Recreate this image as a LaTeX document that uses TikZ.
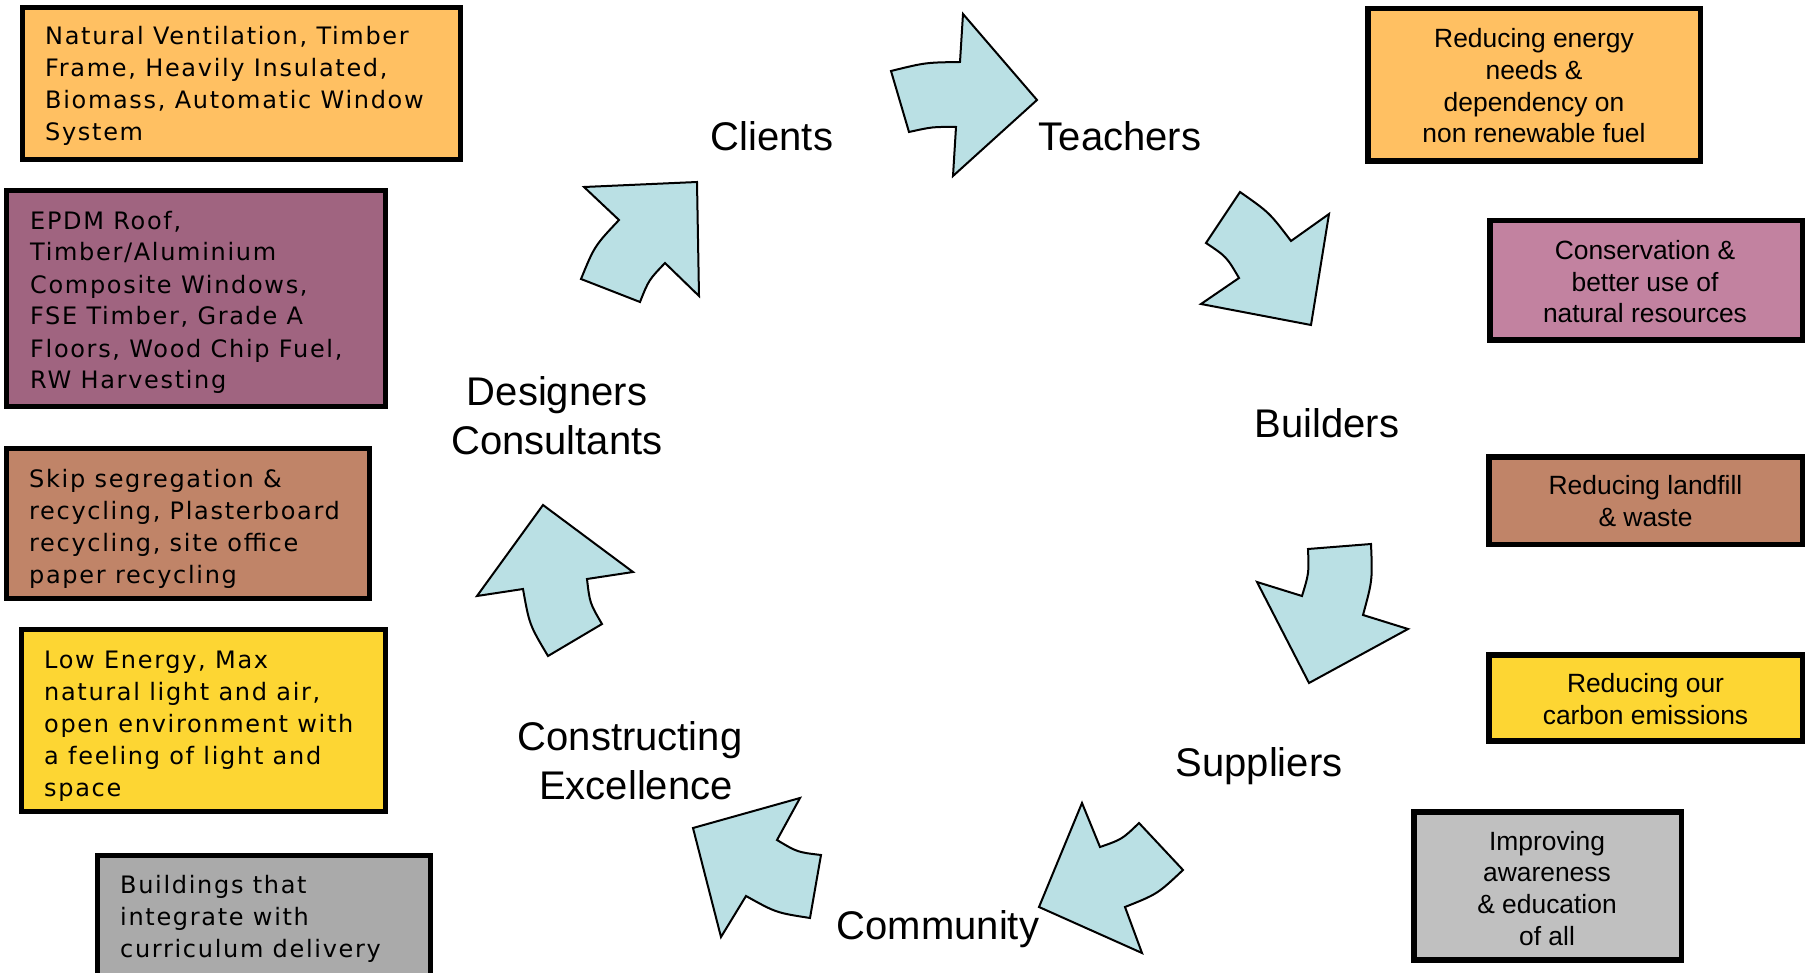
\documentclass[tikz,border=0pt]{standalone}
\usepackage{fontspec}
\setmainfont{Liberation Sans}
\newfontfamily\boxfont[LetterSpace=7]{DejaVu Sans}
\definecolor{arrowc}{RGB}{186,224,228}
\definecolor{cOrange}{RGB}{255,192,98}
\definecolor{cPurple}{RGB}{160,100,128}
\definecolor{cBrown}{RGB}{192,132,104}
\definecolor{cYellow}{RGB}{253,214,51}
\definecolor{cGrayL}{RGB}{170,170,170}
\definecolor{cPink}{RGB}{194,130,160}
\definecolor{cGrayR}{RGB}{192,192,192}
\tikzset{
  arr/.style={draw=black, fill=arrowc, line width=2pt, line join=miter},
  lbox/.style={draw=black, line width=5pt, inner sep=0pt, rectangle},
  rbox/.style={draw=black, line width=5.5pt, inner sep=0pt, rectangle},
  ltext/.style={inner sep=0pt, align=left, anchor=base west, font=\boxfont\fontsize{24}{32}\selectfont},
  rtext/.style={inner sep=0pt, align=center, anchor=base, font=\fontsize{26.4}{31.8}\selectfont},
  lab/.style={inner sep=0pt, align=center, anchor=base, font=\fontsize{40}{48.5}\selectfont}
}
\begin{document}
\begin{tikzpicture}[x=1pt,y=-1pt]
\useasboundingbox (0,0) rectangle (1810,973);
\fill[white] (0,0) rectangle (1810,973);

% left boxes
\node[lbox, fill=cOrange, minimum width=438pt, minimum height=152pt] (L1) at (241.5,83.5) {};
\node[lbox, fill=cPurple, minimum width=379pt, minimum height=216pt] (L2) at (196,298.5) {};
\node[lbox, fill=cBrown, minimum width=363pt, minimum height=150pt] (L3) at (188,523) {};
\node[lbox, fill=cYellow, minimum width=364pt, minimum height=182pt] (L4) at (203.5,720) {};
\node[lbox, fill=cGrayL, minimum width=333pt, minimum height=145pt] (L5) at (264,928) {};

% (anchor = baseline of last line)
\node[ltext] (T1) at (45,141) {Natural Ventilation, Timber\\Frame, Heavily Insulated,\\Biomass, Automatic Window\\System};
\node[ltext] (T2) at (30,389) {EPDM Roof,\\Timber/Aluminium\\Composite Windows,\\FSE Timber, Grade A\\Floors, Wood Chip Fuel,\\RW Harvesting};
\node[ltext] (T3) at (29,583) {Skip segregation \&\\recycling, Plasterboard\\recycling, site office\\paper recycling};
\node[ltext] (T4) at (44,796) {Low Energy, Max\\natural light and air,\\open environment with\\a feeling of light and\\space};
\node[ltext] (T5) at (120,957) {Buildings that\\integrate with\\curriculum delivery};

% right boxes
\node[rbox, fill=cOrange, minimum width=332.5pt, minimum height=152.5pt] (R1) at (1534,85) {};
\node[rbox, fill=cPink, minimum width=312.5pt, minimum height=119.5pt] (R2) at (1646,280.5) {};
\node[rbox, fill=cBrown, minimum width=313.5pt, minimum height=87.5pt] (R3) at (1645.5,500.5) {};
\node[rbox, fill=cYellow, minimum width=313.5pt, minimum height=86pt] (R4) at (1645.5,697.8) {};
\node[rbox, fill=cGrayR, minimum width=267.5pt, minimum height=148.2pt] (R5) at (1547.5,885.9) {};

\node[rtext] (S1) at (1534,143) {Reducing energy\\needs \&\\dependency on\\non renewable fuel};
\node[rtext] (S2) at (1645,323) {Conservation \&\\better use of\\natural resources};
\node[rtext] (S3) at (1645.5,526) {Reducing landfill\\\& waste};
\node[rtext] (S4) at (1645.5,724) {Reducing our\\carbon emissions};
\node[rtext] (S5) at (1547,945.4) {Improving\\awareness\\\& education\\of all};

% cycle labels
\node[lab] (clients) at (772,151) {Clients};
\node[lab] (teachers) at (1120,151) {Teachers};
\node[lab] (builders) at (1327,437) {Builders};
\node[lab] (suppliers) at (1259,776) {Suppliers};
\node[lab] (community) at (938,939) {Community};
\node[lab] (constructing) at (630,799) {Constructing\\\hspace*{12pt}Excellence};
\node[lab] (designers) at (557,454) {Designers\\Consultants};

% arrows
\draw[arr] (891,71) .. controls (925.5,62.5) .. (960,62) -- (963,14) -- (1037,100) -- (953,176) -- (956,127) .. controls (932.5,126.8) .. (909,132) -- cycle;
\draw[arr] (1240,192) .. controls (1269.3,212.5) .. (1291,241) -- (1329,214) -- (1311,325) -- (1201,304) -- (1239,278) .. controls (1226.5,256.7) .. (1206,243) -- cycle;
\draw[arr] (1308,549) -- (1371,544) .. controls (1372.5,580.1) .. (1363,615) -- (1408,629) -- (1309,683) -- (1257,582) -- (1302,596) .. controls (1309,573) .. (1308,549) -- cycle;
\draw[arr] (1082,803) -- (1100,847) .. controls (1122.1,839.3) .. (1139,823) -- (1183,870) .. controls (1157.5,894) .. (1125,907) -- (1142,953) -- (1039,907) -- cycle;
\draw[arr] (800,798) -- (777,840) .. controls (797.4,852.2) .. (821,855) -- (810,918) .. controls (776,912.7) .. (746,896) -- (721,937) -- (693,828) -- cycle;
\draw[arr] (543,505) -- (633,572) -- (587,579) .. controls (589.8,603.1) .. (602,624) -- (548,656) .. controls (529.4,624.8) .. (523,589) -- (477,596) -- cycle;
\draw[arr] (584,187) -- (697,182) -- (699,296) -- (665,263) .. controls (648.7,280.1) .. (640,302) -- (581,279) .. controls (594.5,246) .. (619,220) -- cycle;
\end{tikzpicture}
\end{document}
